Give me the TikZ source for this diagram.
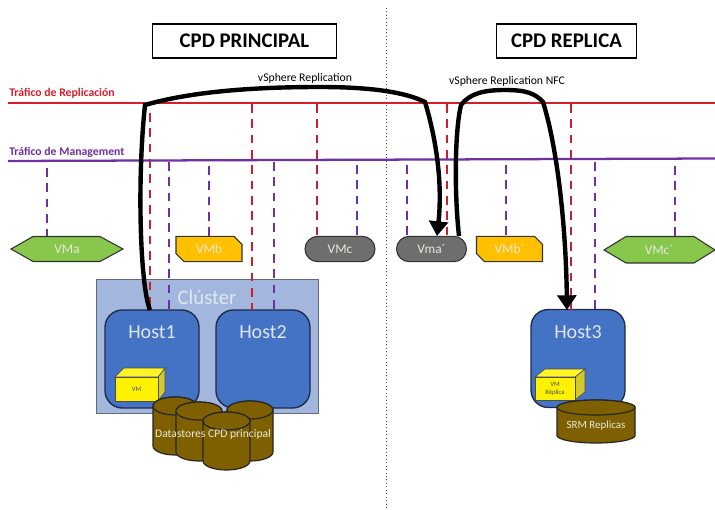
\documentclass[tikz,border=0pt]{standalone}
\usepackage{fontspec}
\setmainfont{Carlito}
\usetikzlibrary{shapes.misc,arrows.meta}
\definecolor{repred}{HTML}{D81E2C}
\definecolor{dashred}{HTML}{C8202C}
\definecolor{mgmt}{HTML}{7030A0}
\definecolor{hostblue}{HTML}{4472C4}
\definecolor{clusterblue}{HTML}{A3B6DD}
\definecolor{brownc}{HTML}{7F6000}
\definecolor{greenvm}{HTML}{86C74C}
\definecolor{orangevm}{HTML}{FFC000}
\definecolor{greyvm}{HTML}{6F6D6E}
\definecolor{edgedark}{HTML}{1F2A44}
\definecolor{lighttxt}{HTML}{DDE7F5}
\definecolor{softtxt}{HTML}{E8E8D8}
\tikzset{
  titlebox/.style={draw=black,line width=0.9pt,fill=white,inner sep=0pt,font=\fontsize{15.6}{17}\selectfont\bfseries},
  trafficred/.style={draw=repred,line width=1.5pt},
  trafficmg/.style={draw=mgmt,line width=1.7pt},
  dashr/.style={draw=dashred,line width=1.8pt,dash pattern=on 6.5pt off 5pt},
  dashm/.style={draw=mgmt,line width=1.8pt,dash pattern=on 6.5pt off 5pt},
  flow/.style={draw=black,line width=3.3pt,-{Triangle[length=11pt,width=14pt]}},
  flowlabel/.style={font=\fontsize{8.8}{10}\selectfont,inner sep=0pt},
  vmtext/.style={text=softtxt,font=\fontsize{10}{11}\selectfont,inner sep=0pt},
  hostbox/.style={draw=edgedark,line width=1pt,fill=hostblue,rounded corners=13pt,minimum width=70.5pt,minimum height=73.5pt,inner sep=0pt},
  hosttext/.style={text=lighttxt,font=\fontsize{15}{17}\selectfont,inner sep=0pt},
  pill/.style={draw=black!80,line width=0.8pt,fill=greyvm,rounded rectangle,minimum width=52.5pt,minimum height=19pt,inner sep=0pt,text=softtxt,font=\fontsize{10}{11}\selectfont},
  snip/.style={draw=black!80,line width=0.8pt,fill=orangevm,chamfered rectangle,chamfered rectangle corners={north east,south west},chamfered rectangle xsep=3pt,chamfered rectangle ysep=3pt,minimum width=49.5pt,minimum height=19pt,inner sep=0pt,text=softtxt,font=\fontsize{10}{11}\selectfont},
  hexa/.style={draw=black!80,line width=0.8pt,fill=greenvm},
  cube/.style={draw=black!70,line width=0.5pt,fill=yellow},
  drumline/.style={draw=black!85,line width=0.9pt,fill=brownc},
}
% \drumshape{left}{right}{top}{bottom}{ellipse half height, in px}
\newcommand{\drumshape}[5]{%
  \pgfmathsetmacro{\drx}{(#2-#1)/2*0.75}%
  \pgfmathsetmacro{\dry}{#5*0.75}%
  \pgfmathsetmacro{\drt}{#3+#5}%
  \pgfmathsetmacro{\drb}{#4-#5}%
  \draw[drumline] (#1,\drt) -- (#1,\drb) arc[start angle=180,end angle=360,x radius=\drx pt,y radius=\dry pt] -- (#2,\drt) arc[start angle=0,end angle=180,x radius=\drx pt,y radius=\dry pt] -- cycle;
  \draw[drumline] (#1,\drt) arc[start angle=180,end angle=540,x radius=\drx pt,y radius=\dry pt];
}
\begin{document}
\begin{tikzpicture}[x=0.75pt,y=-0.75pt]
\useasboundingbox (0,0) rectangle (715,510);
\fill[white] (0,0) rectangle (715,510);
% site divider
\coordinate (divtop) at (386,8);
\coordinate (divbot) at (386,510);
\draw[draw=black!70,line width=0.6pt,dotted] (divtop) -- (divbot);
% titles
\node[titlebox,minimum width=138.5pt,minimum height=25.5pt] (t1) at (244.5,41) {CPD PRINCIPAL};
\node[titlebox,minimum width=105.5pt,minimum height=25.5pt] (t2) at (566.5,41) {CPD REPLICA};
% traffic lines
\coordinate (rl) at (8,103); \coordinate (rr) at (715,103);
\coordinate (ml) at (8,161); \coordinate (mr) at (715,158.5);
% cluster and hosts
\node[draw=edgedark!70,line width=0.9pt,fill=clusterblue,minimum width=167pt,minimum height=101pt,inner sep=0pt] (cluster) at (207.5,346.5) {};
\node[inner sep=0pt,text=lighttxt,font=\fontsize{15.5}{17}\selectfont] (clabel) at (207,297) {Clúster};
\node[hostbox] (h1) at (152,359) {};
\node[hostbox] (h2) at (263,359) {};
\node[hostbox] (h3) at (578,358.5) {};
\node[hosttext] (h1t) at (152,332) {Host1};
\node[hosttext] (h2t) at (263,332) {Host2};
\node[hosttext] (h3t) at (578,332) {Host3};
% VMs
\draw[hexa] (11,249) -- (33,236.5) -- (100,236.5) -- (123,249) -- (100,261.5) -- (33,261.5) -- cycle;
\node[vmtext] (vma) at (67,249) {VMa};
\node[snip] (vmb) at (209,249) {VMb};
\node[pill] (vmc) at (340,249) {VMc};
\node[pill] (vmap) at (431.5,249) {Vma´};
\node[snip] (vmbp) at (509.5,249) {VMb´};
\draw[hexa] (604,250) -- (626,236.5) -- (694,236.5) -- (715,250) -- (694,263) -- (626,263) -- cycle;
\node[vmtext] (vmcp) at (659,250) {VMc´};
% dashes
\foreach \n/\x/\a/\b in {a/150/113/310,b/252/104/310,c/317/104/236,d/447/104/236,e/571/104/310}{
  \coordinate (ds\n) at (\x,\a); \coordinate (de\n) at (\x,\b);
  \draw[dashr] (ds\n) -- (de\n);
}
\foreach \n/\x/\a/\b in {f/47/168/236,g/169/162/310,h/209/166/236,i/274/162/310,j/357/165/236,k/407/165/236,l/506/165/236,m/595/162/310,n/675/166/236}{
  \coordinate (ds\n) at (\x,\a); \coordinate (de\n) at (\x,\b);
  \draw[dashm] (ds\n) -- (de\n);
}
\draw[trafficred] (rl) -- (rr);
\draw[trafficmg] (ml) -- (mr);
\node[anchor=west,inner sep=0pt,text=repred,font=\fontsize{8.8}{10}\selectfont\bfseries] (lr) at (9,93) {Tráfico de Replicación};
\node[anchor=west,inner sep=0pt,text=mgmt,font=\fontsize{8.8}{10}\selectfont\bfseries] (lm) at (9,152) {Tráfico de Management};
\node[flowlabel] (fl1) at (305,78) {vSphere Replication};
\node[flowlabel] (fl2) at (507,81) {vSphere Replication NFC};
% flows
\coordinate (h1top) at (150,310);
\coordinate (vmatop) at (437,236);
\coordinate (vmaout) at (459,236);
\coordinate (h3top) at (567,310);
\draw[flow] (h1top) .. controls (140,285) and (137,180) .. (145,105)
  .. controls (190,92) and (250,87) .. (320,87)
  .. controls (370,87) and (405,92) .. (425,102)
  .. controls (435,135) and (443,180) .. (vmatop);
\draw[flow] (vmaout) .. controls (454,190) and (455,130) .. (461,105)
  .. controls (470,93) and (485,90) .. (505,90)
  .. controls (525,90) and (535,93) .. (543,102)
  .. controls (558,150) and (566,230) .. (h3top);
% cubes
\draw[cube,fill=yellow!80!black] (158,377) -- (165,368) -- (165,392) -- (158,401) -- cycle;
\draw[cube,fill=yellow!85!white] (115,377) -- (124,368) -- (165,368) -- (158,377) -- cycle;
\node[draw=black!70,line width=0.5pt,fill=yellow,minimum width=32pt,minimum height=18pt,inner sep=0pt,font=\fontsize{5}{6}\selectfont,text=black!70] (vm1) at (136.5,389) {VM};
\draw[cube,fill=yellow!80!black] (575,377) -- (585,369) -- (585,392) -- (575,400) -- cycle;
\draw[cube,fill=yellow!85!white] (535,377) -- (545,369) -- (585,369) -- (575,377) -- cycle;
\node[draw=black!70,line width=0.5pt,fill=yellow,minimum width=30pt,minimum height=17.25pt,inner sep=0pt,align=center,font=\fontsize{5}{6}\selectfont,text=black!70] (vm2) at (555,388.5) {VM\\Réplica};
% datastores
\drumshape{153}{197}{397}{455}{9}
\drumshape{176}{222}{402}{461}{9}
\drumshape{227}{273}{401}{461}{9}
\drumshape{203}{250}{412}{470}{9}
\node[inner sep=0pt,text=softtxt,font=\fontsize{8.7}{10}\selectfont] (dslabel) at (213,434) {Datastores CPD principal};
\drumshape{557}{635}{400}{443}{7.5}
\node[inner sep=0pt,text=softtxt,font=\fontsize{8.2}{9}\selectfont] (srmlabel) at (596,426) {SRM Replicas};
\end{tikzpicture}
\end{document}
